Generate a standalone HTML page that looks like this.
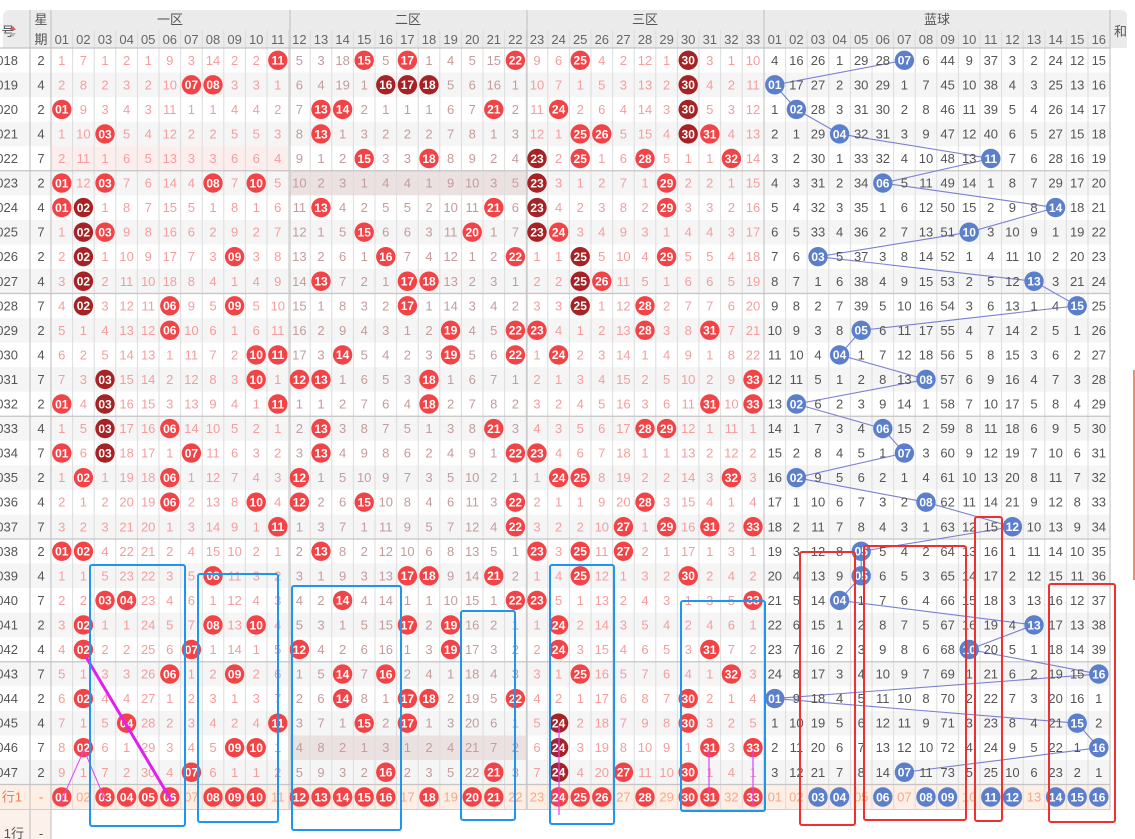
<!DOCTYPE html>
<html><head><meta charset="utf-8"><style>
html,body{margin:0;padding:0;background:#fff;}
svg{display:block;font-family:"Liberation Sans","Noto Sans CJK SC",sans-serif;}
</style></head><body>
<svg id="s" width="1135" height="839" xmlns="http://www.w3.org/2000/svg"></svg>
<script>
(function(){
const S=document.getElementById('s');let h='';
const W=21.6,RH=24.55;
function rx(i){return 51+(i-1)*W}
function bx(j){return 764+(j-1)*W}
function rowY(k){return 48+k*RH}
function t(x,y,s,c,o){h+='<text x="'+x+'" y="'+y+'" fill="'+c+'" font-size="13" text-anchor="middle" '+(o||'')+'>'+s+'</text>'}
function r(x,y,w,hh,c){h+='<rect x="'+x+'" y="'+y+'" width="'+w+'" height="'+hh+'" fill="'+c+'"/>'}
function l(x1,y1,x2,y2,c,w){h+='<line x1="'+x1+'" y1="'+y1+'" x2="'+x2+'" y2="'+y2+'" stroke="'+c+'" stroke-width="'+(w||1)+'"/>'}
function ball(cx,cy,c,s){h+='<circle cx="'+cx+'" cy="'+cy+'" r="9.7" fill="'+c+'"/><text x="'+cx+'" y="'+(cy+4.3)+'" fill="#fff" font-size="12" font-weight="bold" text-anchor="middle">'+s+'</text>'}
function p2(n){return (n<10?'0':'')+n}
const R=[[11,15,17,22,25,30],[7,8,16,17,18,30],[1,13,14,21,24,30],[3,13,25,26,30,31],[15,18,23,25,28,32],[1,3,8,10,23,29],[1,2,13,21,23,29],[2,3,15,20,23,24],[2,9,16,22,25,29],[2,13,17,18,25,26],[2,6,9,17,25,28],[6,19,22,23,28,31],[10,11,14,19,22,24],[3,10,12,13,18,33],[1,3,11,18,31,33],[3,6,13,21,28,29],[1,3,7,13,22,23],[2,6,12,24,25,32],[6,10,12,15,22,28],[11,22,27,29,31,33],[1,2,13,23,25,27],[8,17,18,21,25,30],[3,4,14,22,23,33],[2,8,10,17,19,24],[2,7,12,19,24,31],[6,9,14,16,25,32],[2,14,17,18,22,30],[4,11,15,17,24,30],[2,9,10,24,31,33],[7,16,21,24,27,30]];
const D={0:[30],1:[16,17,18,30],2:[30],3:[30],4:[23],5:[23],6:[2,23],7:[2,23],8:[2,25],9:[2,25],10:[2,25],13:[3],14:[3],15:[3],16:[3],27:[24],28:[24],29:[24]};
const B=[7,1,2,4,11,6,14,10,3,13,15,5,4,8,2,6,7,2,8,12,5,5,4,13,10,16,1,15,16,7];
const R0=[1,7,1,2,1,9,3,14,2,2,0,5,3,18,0,5,0,1,4,5,15,0,9,6,0,4,2,12,1,0,3,1,10];
const B0=[4,16,26,1,29,28,0,6,44,9,37,3,2,24,12,15];
const WK=[2,4,2,4,7,2,4,7,2,4,7,2,4,7,2,4,7,2,4,7,2,4,7,2,4,7,2,4,7,2];
h+='<rect x="3" y="10" width="1124" height="38" rx="6" fill="#ebebeb"/>';
r(3,20,1124,28,'#ebebeb');
for(let k=0;k<30;k++){r(0,rowY(k),1110,RH+0.5,k%2?'#f5f5f5':'#fff');}
r(51,rowY(4),11*W,RH,'#fdeeee');
r(290,rowY(5),11*W,RH,'#ebe1e1');
r(290,rowY(28),11*W,RH,'#ebe1e1');
const y1=rowY(30);
r(0,y1,1110,25,'#fdeee6');
r(0,y1+25,51,30,'#fdf1ec');
for(let i=1;i<=33;i++){l(rx(i),30,rx(i),y1+25,'#dcdcdc');}
for(let j=1;j<=16;j++){l(bx(j),30,bx(j),y1+25,'#dcdcdc');}
[30,51,290,527,764,1110].forEach(function(x){l(x,10,x,x<60?839:y1+25,'#bdbdbd');});
for(let k=0;k<=30;k+=5){l(0,rowY(k),1110,rowY(k),'#c4c4c4',1.2);}
l(0,y1+25,1110,y1+25,'#d0d0d0');
t(41,24,'星','#555');t(41,44,'期','#555');
t(8,36,'号','#555','text-anchor="end"');
h+='<path d="M10 30 l3 -4 l3 4z" fill="#e55"/><path d="M10 33 l3 4 l3 -4z" fill="#bbb"/>';
t(170,24,'一区','#555');t(408,24,'二区','#555');t(645,24,'三区','#555');t(937,24,'蓝球','#555');
h+='<text x="1114" y="36" fill="#555" font-size="13">和</text>';
for(let i=1;i<=33;i++)t(rx(i)+W/2,44,p2(i),'#666','font-size="12.5"');
for(let j=1;j<=16;j++)t(bx(j)+W/2,44,p2(j),'#666','font-size="12.5"');
let pts=B.map(function(b,k){return (bx(b)+W/2)+','+(rowY(k)+12.3)}).join(' ');
h+='<polyline points="'+pts+'" fill="none" stroke="#7b7fd2" stroke-width="1.1"/>';
let rm=R0.slice(),bm=B0.slice();
for(let k=0;k<30;k++){
  const cy=rowY(k)+12.3;
  if(k>0){for(let i=0;i<33;i++){rm[i]=R[k-1].indexOf(i+1)>=0?1:rm[i]+1;}
          for(let j=0;j<16;j++){bm[j]=(B[k-1]==j+1)?1:bm[j]+1;}}
  h+='<text x="18" y="'+(cy+4.5)+'" fill="#555" font-size="13" text-anchor="end">0'+(18+k)+'</text>';
  t(41,cy+4.5,WK[k],'#555');
  for(let i=1;i<=33;i++){
    const cx=rx(i)+W/2;
    if(R[k].indexOf(i)>=0){ball(cx,cy,(D[k]&&D[k].indexOf(i)>=0)?'#a52324':'#f24346',p2(i));}
    else t(cx,cy+4.5,rm[i-1],(i>=12&&i<=22)?'#c49c9c':'#f59d9d');
  }
  for(let j=1;j<=16;j++){
    const cx=bx(j)+W/2;
    if(B[k]==j)ball(cx,cy,'#5b7fcb',p2(j));
    else t(cx,cy+4.5,bm[j-1],'#555');
  }
}
const RS=[1,3,4,5,6,8,9,10,12,13,14,15,16,18,20,21,24,25,26,28,30,31,33],BS=[3,4,6,8,9,11,12,14,15,16];
const cy1=y1+12.5;
h+='<text x="22" y="'+(cy1+4.5)+'" fill="#f07a50" font-size="13" text-anchor="end">行1</text>';
t(41,cy1+4.5,'-','#f07a50');
for(let i=1;i<=33;i++){const cx=rx(i)+W/2; if(RS.indexOf(i)>=0)ball(cx,cy1,'#f24346',p2(i)); else t(cx,cy1+4.5,p2(i),'#f5a987');}
for(let j=1;j<=16;j++){const cx=bx(j)+W/2; if(BS.indexOf(j)>=0)ball(cx,cy1,'#5b7fcb',p2(j)); else t(cx,cy1+4.5,p2(j),'#f5a987');}
h+='<text x="24" y="838" fill="#555" font-size="13" text-anchor="end">1行</text>';
t(41,838,'-','#555');
l(86,657,171,800,'#e020f0',3);
l(84,750,60,804,'#e040f8',1);l(84,750,106,802,'#e040f8',1);
l(559,726,559,815,'#e040f8',1.2);l(709,750,709,792,'#e040f8',1.2);l(753,750,753,806,'#e040f8',1.2);
function box(x1,ya,x2,yb,c){h+='<rect x="'+x1+'" y="'+ya+'" width="'+(x2-x1)+'" height="'+(yb-ya)+'" rx="2" fill="none" stroke="'+c+'" stroke-width="2"/>'}
const BL='#1e96f0',RD='#ee3030';
box(90,565,185,826,BL);box(198,574,278,822,BL);box(292,586,401,830,BL);box(461,611,515,820,BL);
box(550,565,614,824,BL);box(681,601,765,811,BL);
box(800,552,855,825,RD);box(864,546,966,820,RD);box(975,517,1002,821,RD);box(1049,584,1115,822,RD);
l(1134,370,1134,580,'#f08a70',2);
S.innerHTML=h;
})();
</script>
</body></html>
